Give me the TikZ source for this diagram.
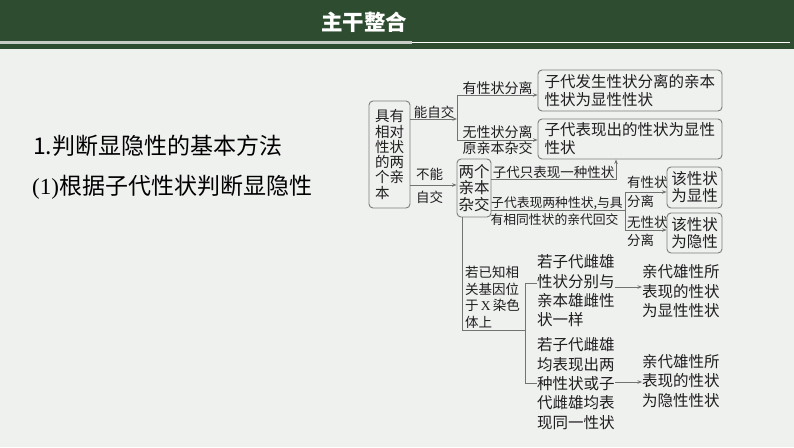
\documentclass[tikz,border=0pt]{standalone}
\usepackage{fontspec}
\newfontfamily\cjk{Noto Sans CJK SC}
\newfontfamily\lser{Liberation Serif}
\usetikzlibrary{arrows.meta}
\definecolor{bgc}{RGB}{239,241,239}
\definecolor{hdr}{RGB}{46,77,48}
\definecolor{barc}{RGB}{200,204,198}
\definecolor{boxc}{RGB}{125,125,125}
\definecolor{linec}{RGB}{115,115,115}
\definecolor{txt}{RGB}{30,30,30}
\tikzset{
  bx/.style={draw=boxc, line width=0.9pt, rounded corners=4pt, fill=bgc, inner sep=0pt, text=txt},
  lab/.style={inner sep=0pt, text=txt, font=\cjk\fontsize{13.5}{16.5}\selectfont},
  smlab/.style={inner sep=0pt, text=txt, font=\cjk\fontsize{12.8}{16}\selectfont},
  body/.style={inner sep=0pt, text=txt, align=left, font=\cjk\fontsize{15.5}{19.3}\selectfont},
  ln/.style={draw=linec, line width=0.8pt},
  arr/.style={ln, -{Stealth[length=4.5pt,width=3.5pt]}},
}
\begin{document}
\begin{tikzpicture}[x=1pt,y=-1pt]
\useasboundingbox (0,0) rectangle (794,447);
\fill[bgc] (0,0) rectangle (794,447);
% header
\fill[hdr] (0,0) rectangle (794,49);
\fill[barc] (0,41) rectangle (412,44);
\draw[white, line width=0.8pt] (412,42.5) -- (790,42.5);
\node[inner sep=0pt, text=white, font=\cjk\bfseries\fontsize{21.5}{24}\selectfont] (title) at (364,22) {主干整合};
% left headings
\node[anchor=west, inner sep=0pt, text=black, font=\cjk\fontsize{23}{27}\selectfont] (h1) at (33,146) {1.判断显隐性的基本方法};
\node[anchor=west, inner sep=0pt, text=black, font=\cjk\fontsize{23}{27}\selectfont] (h2) at (32,187) {{\lser (1)}根据子代性状判断显隐性};
% boxes
\node[bx, minimum width=41pt, minimum height=107pt, text width=29pt, align=left,
      font=\cjk\fontsize{14.5}{15.3}\selectfont] (lbox) at (389.5,154.5) {具有\\相对\\性状\\的两\\个亲\\本};
\node[bx, minimum width=184pt, minimum height=41pt, text width=171pt, align=left,
      font=\cjk\fontsize{15.5}{18}\selectfont] (A1) at (630,90.5) {子代发生性状分离的亲本\\性状为显性性状};
\node[bx, minimum width=184pt, minimum height=40pt, text width=171pt, align=left,
      font=\cjk\fontsize{15.5}{18}\selectfont] (A2) at (630,139) {子代表现出的性状为显性\\性状};
\node[bx, minimum width=34pt, minimum height=58pt, align=center,
      font=\cjk\fontsize{15.5}{16.5}\selectfont] (B) at (474,188) {两个\\亲本\\杂交};
\node[bx, minimum width=55pt, minimum height=41pt, align=center,
      font=\cjk\fontsize{15.5}{17}\selectfont] (C1) at (694.5,187.5) {该性状\\为显性};
\node[bx, minimum width=55pt, minimum height=40pt, align=center,
      font=\cjk\fontsize{15.5}{17}\selectfont] (C2) at (694.5,233) {该性状\\为隐性};
% text blocks
\node[body, anchor=west] (D1) at (537,291) {若子代雌雄\\性状分别与\\亲本雄雌性\\状一样};
\node[body, anchor=west] (D2) at (537,383.5) {若子代雌雄\\均表现出两\\种性状或子\\代雌雄均表\\现同一性状};
\node[body, anchor=west, font=\cjk\fontsize{15.5}{19.5}\selectfont] (R1) at (642,291.5) {亲代雄性所\\表现的性状\\为显性性状};
\node[body, anchor=west, font=\cjk\fontsize{15.5}{19.5}\selectfont] (R2) at (642,381) {亲代雄性所\\表现的性状\\为隐性性状};
% labels
\node[lab] (l1) at (434,112) {能自交};
\node[lab, font=\cjk\fontsize{14}{16}\selectfont] (l2) at (497.5,88) {有性状分离};
\node[lab, font=\cjk\fontsize{14}{16}\selectfont] (l3) at (497.5,132) {无性状分离};
\node[lab, font=\cjk\fontsize{14}{16}\selectfont] (l4) at (497.5,148) {原亲本杂交};
\node[lab] (l5) at (429.5,174) {不能};
\node[lab] (l6) at (429.5,197) {自交};
\node[lab] (l7) at (553.5,172) {子代只表现一种性状};
\node[smlab] (l8) at (557,203) {子代表现两种性状,与具};
\node[smlab] (l9) at (554.5,220) {有相同性状的亲代回交};
\node[lab, anchor=west] (l10) at (627,182) {有性状};
\node[lab, anchor=west] (l11) at (627,201) {分离};
\node[lab, anchor=west] (l12) at (627,222) {无性状};
\node[lab, anchor=west] (l13) at (627,240) {分离};
\node[lab, anchor=west, align=left] (l14) at (465,297.5) {若已知相\\关基因位\\于{\lser\,X\,}染色\\体上};
% junction coordinates
\coordinate (m1) at (457,119);
\coordinate (k1) at (457,95);
\coordinate (k2) at (457,140);
\coordinate (m2) at (457,185);
\coordinate (k3) at (616,179);
\coordinate (k4) at (625,210);
\coordinate (k5) at (625,192);
\coordinate (k6) at (625,230);
\coordinate (b0) at (462,217);
\coordinate (b1) at (462,330);
\coordinate (b2) at (525,330);
\coordinate (b3) at (525,283);
\coordinate (b4) at (525,383);
\coordinate (e1) at (615,287);
\coordinate (e2) at (615,382);
% connectors
\draw[arr] (lbox.east |- m1) -- (m1);
\draw[ln] (k1) -- (k2);
\draw[arr] (k1) -- (k1 -| A1.west);
\draw[arr] (k2) -- (k2 -| A2.west);
\draw[arr] (lbox.east |- m2) -- (m2 -| B.west);
\draw[arr] (B.east |- k3) -- (k3) -- (k3 |- A2.south);
\draw[ln] (B.east |- k4) -- (k4);
\draw[ln] (k5) -- (k6);
\draw[arr] (k5) -- (k5 -| C1.west);
\draw[arr] (k6) -- (k6 -| C2.west);
\draw[ln] (B.south -| b0) -- (b1) -- (b2);
\draw[ln] (D1.west |- b3) -- (b3) -- (b4) -- (D2.west |- b4);
\draw[arr] (e1) -- (e1 -| R1.west);
\draw[arr] (e2) -- (e2 -| R2.west);
\end{tikzpicture}
\end{document}
